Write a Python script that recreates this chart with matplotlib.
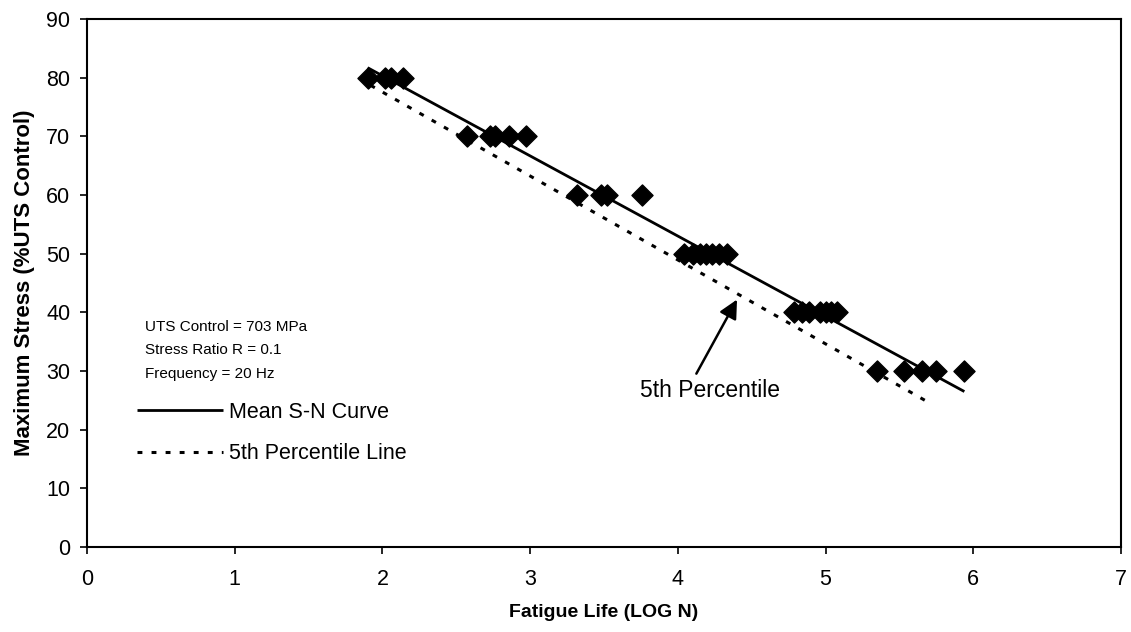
import matplotlib
matplotlib.use("Agg")
import matplotlib.pyplot as plt

plt.rcParams['font.family'] = ['Liberation Sans', 'DejaVu Sans']

# fatigue test results: log cycles to failure vs max stress (% of UTS control)
log_life = [1.90, 2.02, 2.06, 2.14,
            2.57, 2.73, 2.76, 2.86, 2.97,
            3.32, 3.48, 3.52, 3.76,
            4.04, 4.10, 4.15, 4.19, 4.23, 4.28, 4.33,
            4.79, 4.84, 4.89, 4.96, 5.00, 5.04, 5.08,
            5.35, 5.53, 5.65, 5.75, 5.94]
max_stress = [80, 80, 80, 80,
              70, 70, 70, 70, 70,
              60, 60, 60, 60,
              50, 50, 50, 50, 50, 50, 50,
              40, 40, 40, 40, 40, 40, 40,
              30, 30, 30, 30, 30]

# fitted lines (end points)
mean_x = [1.90, 5.94]
mean_y = [81.7, 26.5]
pct_x = [1.92, 5.68]
pct_y = [78.7, 24.9]

notes = "UTS Control = 703 MPa\nStress Ratio R = 0.1\nFrequency = 20 Hz"

fig = plt.figure(figsize=(11.31, 6.32), dpi=100)
ax = fig.add_axes([0.0769, 0.1345, 0.9142, 0.8354])

ax.scatter(log_life, max_stress, marker='D', s=115, color='black', zorder=3)
mean_line, = ax.plot(mean_x, mean_y, color='black', lw=2.0, solid_capstyle='butt')
pct_line, = ax.plot(pct_x, pct_y, color='black', lw=2.2, linestyle=(0, (1.6, 3.0)))

ax.set_xlim(0, 7)
ax.set_ylim(0, 90)
ax.set_xticks(range(0, 8))
ax.set_yticks(range(0, 100, 10))
ax.tick_params(direction='out', length=5, width=1.2, labelsize=15.5)
ax.tick_params(axis='x', pad=11)
ax.tick_params(axis='y', pad=7)
for sp in ax.spines.values():
    sp.set_linewidth(1.5)

ax.set_xlabel('Fatigue Life (LOG N)', fontsize=14, fontweight='bold', labelpad=10)
ax.set_ylabel('Maximum Stress (%UTS Control)', fontsize=16, fontweight='bold', labelpad=8)

ax.text(0.056, 0.43, notes, transform=ax.transAxes, fontsize=11,
        linespacing=1.85, va='top', ha='left')

ax.legend([mean_line, pct_line], ['Mean S-N Curve', '5th Percentile Line'],
          loc='upper left', bbox_to_anchor=(0.048, 0.275), frameon=False,
          fontsize=15.5, handlelength=4.0, handletextpad=0.3, labelspacing=0.95,
          borderpad=0, borderaxespad=0)

ax.annotate('5th Percentile', xy=(4.41, 42.6), xytext=(4.22, 26.7),
            fontsize=16.5, ha='center', va='center',
            arrowprops=dict(arrowstyle='-|>', color='black', lw=1.8,
                            mutation_scale=28, relpos=(0.38, 1.0)))

fig.savefig('out.png', dpi=100)
